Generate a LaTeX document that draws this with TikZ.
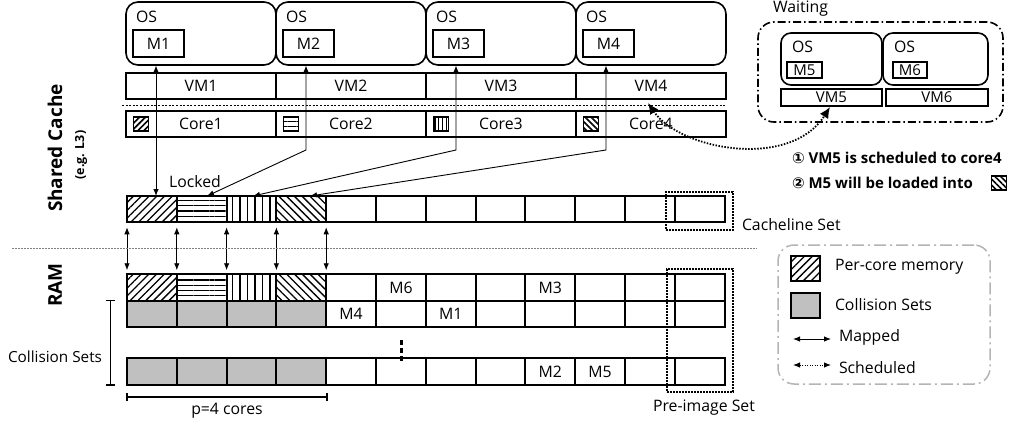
\documentclass[tikz,border=0pt]{standalone}
\usepackage{fontspec}
\setmainfont{Open Sans}
\newfontfamily\circfont{DejaVu Sans}
\usetikzlibrary{arrows.meta,patterns.meta,calc}
\definecolor{cellgray}{RGB}{192,192,192}
\definecolor{leggray}{RGB}{180,180,180}
\tikzset{
  base/.style={inner sep=0pt, outer sep=0pt, font=\fontsize{15.8}{17}\selectfont},
  osbox/.style={base, draw, line width=1.6pt, rounded corners=12pt, minimum width=150pt, minimum height=63pt},
  mbox/.style={base, draw, line width=1.6pt, minimum width=51pt, minimum height=27pt},
  rowbox/.style={base, draw, line width=2pt, minimum width=150pt, minimum height=26pt},
  cellbox/.style={base, draw, line width=2pt, minimum width=49.8pt, minimum height=26.5pt},
  graycell/.style={cellbox, fill=cellgray},
  iconbox/.style={base, draw, line width=1.6pt, minimum width=15pt, minimum height=14pt},
  pNE/.style={pattern={Lines[angle=45,distance=5.5pt,line width=1.3pt]}},
  pH/.style={pattern={Lines[angle=0,distance=5.3pt,line width=1.3pt]}},
  pV/.style={pattern={Lines[angle=90,distance=7.5pt,line width=1.3pt]}},
  pNW/.style={pattern={Lines[angle=-45,distance=5.5pt,line width=1.3pt]}},
  iNE/.style={pattern={Lines[angle=45,distance=4.2pt,line width=1.6pt]}},
  iH/.style={pattern={Lines[angle=0,distance=4.6pt,yshift=2.3pt,line width=1.4pt]}},
  iV/.style={pattern={Lines[angle=90,distance=3.75pt,line width=1.3pt]}},
  iNW/.style={pattern={Lines[angle=-45,distance=4.2pt,line width=1.6pt]}},
  dbl/.style={line width=0.9pt, {Latex[length=7pt,width=5.5pt]}-{Latex[length=7pt,width=5.5pt]}},
  dotrect/.style={base, draw, line width=1.8pt, dash pattern=on 1.6pt off 1.4pt},
  sched/.style={line width=1.8pt, dash pattern=on 1.5pt off 1.5pt, {Latex[length=11pt,width=10pt]}-{Latex[length=11pt,width=10pt]}},
  bracket/.style={line width=1.5pt},
  lbl/.style={base, anchor=west},
  side/.style={base, rotate=90, font=\bfseries\fontsize{19}{20}\selectfont},
  note/.style={base, anchor=west, font=\bfseries\fontsize{15}{16}\selectfont},
}
\begin{document}
\begin{tikzpicture}[x=1pt,y=-1pt]
\useasboundingbox (0,0) rectangle (1013,423);

% --- VMs / cores
\foreach \i/\pat in {1/iNE,2/iH,3/iV,4/iNW}{
  \pgfmathsetmacro{\cx}{51+150*\i}
  \node[osbox] (os\i) at (\cx,33.5) {};
  \node[lbl] (ost\i) at (\cx-65,17) {OS};
  \node[mbox] (m\i) at (\cx-42.5,43.5) {M\i};
  \node[rowbox] (vm\i) at (\cx,86) {VM\i};
  \node[rowbox] (core\i) at (\cx,124) {Core\i};
  \node[iconbox,\pat] (ic\i) at (\cx-60,124) {};
}
\draw[line width=0.9pt, dash pattern=on 2pt off 1.6pt] (122,105) -- (725,105);

% --- cache row
\foreach \k/\pat in {0/pNE,1/pH,2/pV,3/pNW}{
  \node[cellbox,\pat] (ca\k) at ({127+49.8*(\k+0.5)},209) {};
}
\foreach \k in {4,...,11}{
  \node[cellbox] (ca\k) at ({127+49.8*(\k+0.5)},209) {};
}

% --- RAM rows
\foreach \k/\pat in {0/pNE,1/pH,2/pV,3/pNW}{
  \node[cellbox,\pat] (ra\k) at ({127+49.8*(\k+0.5)},287.5) {};
  \node[graycell] (rb\k) at ({127+49.8*(\k+0.5)},313.75) {};
  \node[graycell] (rc\k) at ({127+49.8*(\k+0.5)},371.5) {};
}
\foreach \k/\t in {4/,5/M6,6/,7/,8/M3,9/,10/,11/}{
  \node[cellbox] (ra\k) at ({127+49.8*(\k+0.5)},287.5) {\t};
}
\foreach \k/\t in {4/M4,5/,6/M1,7/,8/,9/,10/,11/}{
  \node[cellbox] (rb\k) at ({127+49.8*(\k+0.5)},313.75) {\t};
}
\foreach \k/\t in {4/,5/,6/,7/,8/M2,9/M5,10/,11/}{
  \node[cellbox] (rc\k) at ({127+49.8*(\k+0.5)},371.5) {\t};
}
\draw[line width=3pt, dash pattern=on 5pt off 3pt] (401,340) -- (401,362);

% --- mapped arrows cache <-> RAM
\foreach \k in {0,...,4}{
  \draw[dbl, shorten <=5pt, shorten >=4pt] (ca\k.south west) -- (ra\k.north west);
}

% --- OS -> cache arrows
\coordinate (s1) at (156,65.5); \coordinate (t1) at (156,196);
\coordinate (s2) at (306,65.5); \coordinate (b2) at (306,150); \coordinate (t2) at (207,196);
\coordinate (s3) at (456,65.5); \coordinate (b3) at (456,150); \coordinate (t3) at (253,196);
\coordinate (s4) at (606,65.5); \coordinate (b4) at (606,150); \coordinate (t4) at (310,196);
\draw[dbl] (s1) -- (t1);
\draw[dbl] (s2) -- (b2) -- (t2);
\draw[dbl] (s3) -- (b3) -- (t3);
\draw[dbl] (s4) -- (b4) -- (t4);
\node[base] (locked) at (195,182) {Locked};

% --- separators and set frames
\draw[gray, line width=1pt, dash pattern=on 1.5pt off 1.5pt] (12,248) -- (757,248);
\node[dotrect, minimum width=67pt, minimum height=38pt] (clset) at (699.5,211) {};
\node[lbl] (cltext) at (742,225) {Cacheline Set};
\node[dotrect, minimum width=66pt, minimum height=123pt] (piset) at (700,330.5) {};
\node[base] (pitext) at (704,408) {Pre-image Set};

% --- left labels
\node[side] (shc) at (55,148) {Shared Cache};
\node[side, font=\bfseries\fontsize{12.5}{13}\selectfont] (eg) at (81,155) {(e.g. L3)};
\node[side] (ram) at (55,285) {RAM};
\draw[bracket] (106,300.5) -- (115,300.5) (110.5,300.5) -- (110.5,385) (106,385) -- (115,385);
\node[base, anchor=east, font=\fontsize{15.3}{16}\selectfont] (coll) at (102,357) {Collision Sets};
\draw[bracket] (127,393) -- (127,401) (127,397) -- (327,397) (327,393) -- (327,401);
\node[base] (pcores) at (227,411) {p=4 cores};

% --- waiting VMs
\node[base, draw, line width=1.6pt, dash pattern=on 8pt off 3pt on 1.5pt off 3pt, rounded corners=16pt, minimum width=245pt, minimum height=100pt] (wait) at (880.5,72) {};
\node[lbl] (waittext) at (773,9) {Waiting};
\node[base, draw, line width=1.6pt, rounded corners=10pt, minimum width=101pt, minimum height=52pt] (os5) at (831.5,59) {};
\node[base, draw, line width=1.6pt, rounded corners=10pt, minimum width=105pt, minimum height=52pt] (os6) at (935.5,59) {};
\node[lbl] (ost5) at (792,47) {OS};
\node[lbl] (ost6) at (894,47) {OS};
\node[base, draw, line width=1.6pt, minimum width=35pt, minimum height=16pt, font=\fontsize{15}{16}\selectfont] (m5) at (804.5,70) {M5};
\node[base, draw, line width=1.6pt, minimum width=34pt, minimum height=16pt, font=\fontsize{15}{16}\selectfont] (m6) at (910,70) {M6};
\node[base, draw, line width=1.6pt, minimum width=101pt, minimum height=17pt, font=\fontsize{15}{16}\selectfont] (vm5) at (831.5,97.5) {VM5};
\node[base, draw, line width=1.6pt, minimum width=102pt, minimum height=17pt, font=\fontsize{15}{16}\selectfont] (vm6) at (937,97.5) {VM6};

% --- scheduling arrow
\coordinate (vm4arr) at (648,103);
\coordinate (vm5arr) at (830,107);
\draw[sched] (vm4arr) .. controls (680,150) and (790,170) .. (vm5arr);

% --- notes
\node[note] (note1) at (792,158) {{\circfont ①} VM5 is scheduled to core4};
\node[note] (note2) at (792,183) {{\circfont ②} M5 will be loaded into};
\node[iconbox, iNW] (noteicon) at (999,183) {};

% --- legend
\node[base, draw=leggray, line width=1.5pt, dash pattern=on 12pt off 4pt on 2pt off 4pt, rounded corners=16pt, minimum width=212pt, minimum height=139pt] (legend) at (884,314.5) {};
\node[base, draw, line width=2pt, pNE, minimum width=29pt, minimum height=25pt] (lg1) at (805.5,268.5) {};
\node[lbl] (lt1) at (835,267) {Per-core memory};
\node[base, draw, line width=2pt, fill=cellgray, minimum width=29pt, minimum height=25pt] (lg2) at (805.5,305.5) {};
\node[lbl] (lt2) at (835,305) {Collision Sets};
\coordinate (la1) at (793,339); \coordinate (lb1) at (831,339);
\draw[dbl] (la1) -- (lb1);
\node[lbl] (lt3) at (839,337) {Mapped};
\coordinate (la2) at (793,365); \coordinate (lb2) at (831,365);
\draw[line width=0.9pt, dash pattern=on 1pt off 1.5pt, {Latex[length=7pt,width=5.5pt]}-{Latex[length=7pt,width=5.5pt]}] (la2) -- (lb2);
\node[lbl] (lt4) at (839,368) {Scheduled};
\end{tikzpicture}
\end{document}
